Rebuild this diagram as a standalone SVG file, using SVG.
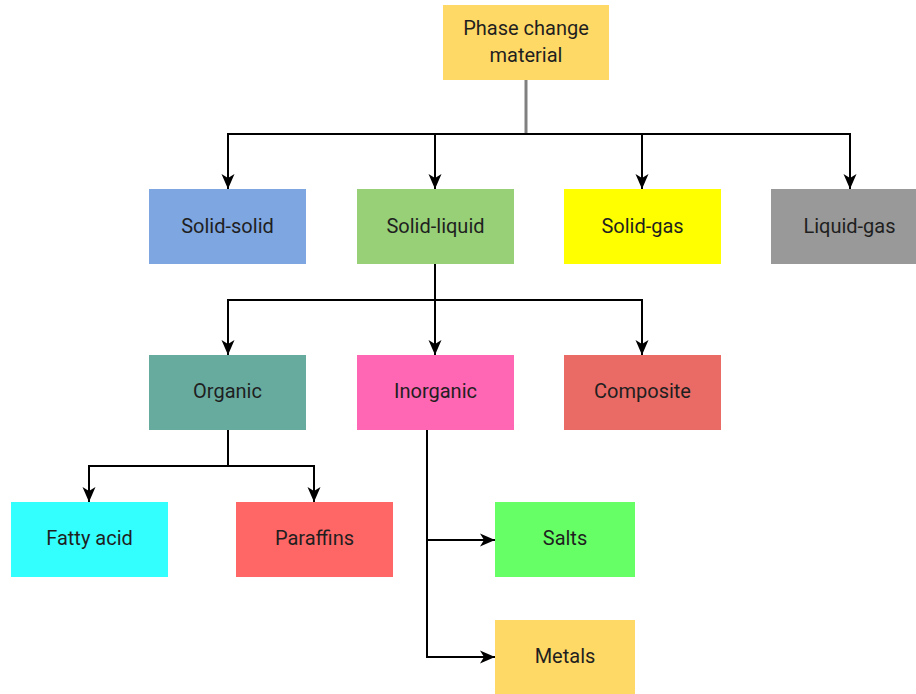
<svg xmlns="http://www.w3.org/2000/svg" width="916" height="694" viewBox="0 0 916 694">
<style>
.n text{font-family:Roboto,"Liberation Sans",Arial,sans-serif;font-size:20px;fill:#1f1f1f;text-anchor:middle;dominant-baseline:central}
.e{fill:none;stroke:#000;stroke-width:2}
</style>
<defs>
<marker id="a" markerUnits="userSpaceOnUse" markerWidth="16" markerHeight="16" viewBox="0 0 16 16" refX="15" refY="8" orient="auto">
<path d="M0,1.5 L15,8 L0,14.5 L4,8 z" fill="#000"/>
</marker>
</defs>
<rect width="916" height="694" fill="#fff"/>
<g id="edges">
<path d="M526,80 V134" fill="none" stroke="#808080" stroke-width="3"/>
<path class="e" d="M228,189 V134 H850 V189" marker-end="url(#a)"/>
<path class="e" d="M228,134 V189" marker-end="url(#a)"/>
<path class="e" d="M435,134 V189" marker-end="url(#a)"/>
<path class="e" d="M642,134 V189" marker-end="url(#a)"/>
<path class="e" d="M435,264 V355" marker-end="url(#a)"/>
<path class="e" d="M228,355 V300 H642 V355" marker-end="url(#a)"/>
<path class="e" d="M228,300 V355" marker-end="url(#a)"/>
<path class="e" d="M228,430 V466 H89 V502" marker-end="url(#a)"/>
<path class="e" d="M228,466 H314 V502" marker-end="url(#a)"/>
<path class="e" d="M427,430 V657 H495" marker-end="url(#a)"/>
<path class="e" d="M427,540 H495" marker-end="url(#a)"/>
</g>
<g id="pcm" class="n"><rect x="443" y="5" width="166" height="75" fill="#FFD966"/><text x="526" y="28">Phase change</text><text x="526" y="55">material</text></g>
<g id="solid-solid" class="n"><rect x="149" y="189" width="157" height="75" fill="#7EA6E0"/><text x="227.5" y="226">Solid-solid</text></g>
<g id="solid-liquid" class="n"><rect x="357" y="189" width="157" height="75" fill="#97D077"/><text x="435.5" y="226">Solid-liquid</text></g>
<g id="solid-gas" class="n"><rect x="564" y="189" width="157" height="75" fill="#FFFF00"/><text x="642.5" y="226">Solid-gas</text></g>
<g id="liquid-gas" class="n"><rect x="771" y="189" width="157" height="75" fill="#999999"/><text x="849.5" y="226">Liquid-gas</text></g>
<g id="organic" class="n"><rect x="149" y="355" width="157" height="75" fill="#67AB9F"/><text x="227.5" y="391">Organic</text></g>
<g id="inorganic" class="n"><rect x="357" y="355" width="157" height="75" fill="#FF66B3"/><text x="435.5" y="391">Inorganic</text></g>
<g id="composite" class="n"><rect x="564" y="355" width="157" height="75" fill="#EA6B66"/><text x="642.5" y="391">Composite</text></g>
<g id="fatty-acid" class="n"><rect x="11" y="502" width="157" height="75" fill="#33FFFF"/><text x="89.5" y="538">Fatty acid</text></g>
<g id="paraffins" class="n"><rect x="236" y="502" width="157" height="75" fill="#FF6666"/><text x="314.5" y="538">Paraffins</text></g>
<g id="salts" class="n"><rect x="495" y="502" width="140" height="75" fill="#66FF66"/><text x="565" y="538">Salts</text></g>
<g id="metals" class="n"><rect x="495" y="620" width="140" height="75" fill="#FFD966"/><text x="565" y="656">Metals</text></g>
</svg>
